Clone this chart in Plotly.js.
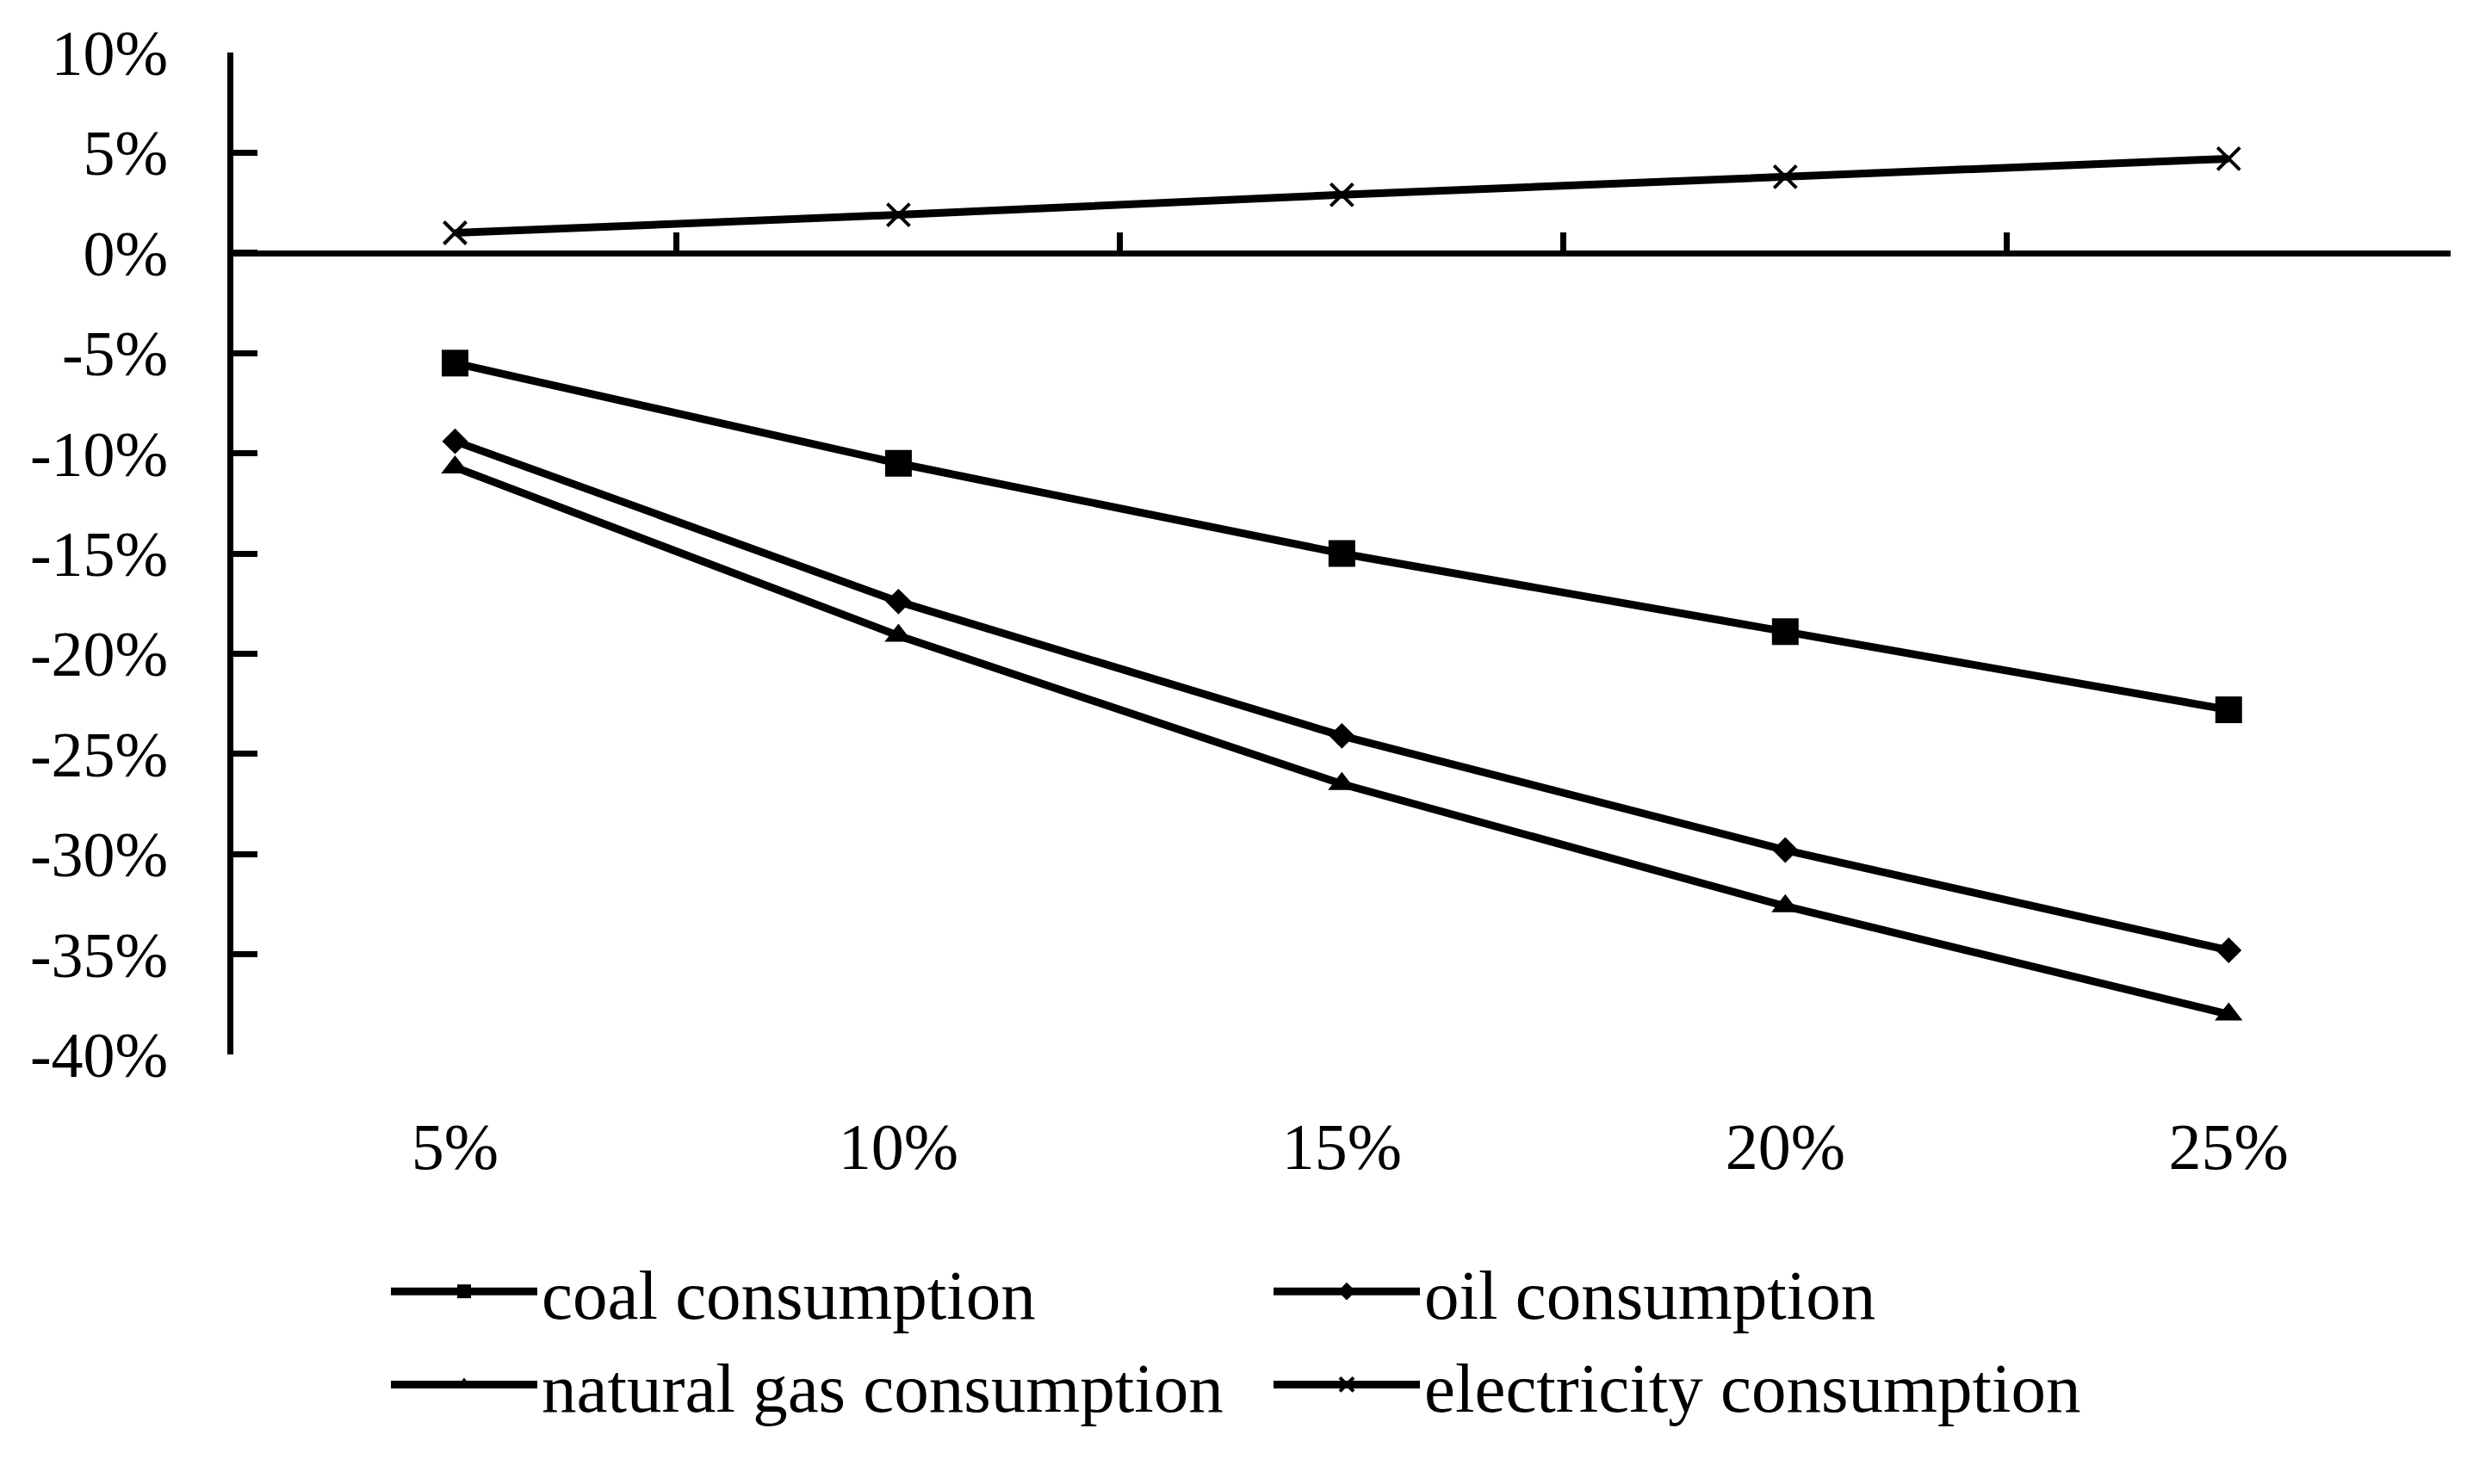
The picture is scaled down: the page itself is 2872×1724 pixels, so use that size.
<!DOCTYPE html>
<html>
<head>
<meta charset="utf-8">
<script src="https://cdn.plot.ly/plotly-3.0.1.min.js"></script>
<style>html,body{margin:0;padding:0;background:#fff;}#chart{width:2872px;height:1724px;}</style>
</head>
<body>
<div id="chart"></div>
<script>
const categories = ['5%', '10%', '15%', '20%', '25%'];
const coalConsumption = [-5.5, -10.5, -15.0, -18.9, -22.8];
const oilConsumption = [-9.4, -17.4, -24.1, -29.8, -34.8];
const gasConsumption = [-10.7, -19.1, -26.5, -32.6, -38.0];
const electricityConsumption = [1.0, 1.9, 2.9, 3.8, 4.7];
const seriesNames = ['coal consumption', 'oil consumption', 'natural gas consumption', 'electricity consumption'];
const yTickVals = [-40, -35, -30, -25, -20, -15, -10, -5, 0, 5, 10];
const yTickText = ['-40%', '-35%', '-30%', '-25%', '-20%', '-15%', '-10%', '-5%', '0%', '5%', '10%'];

const FONT = 'Liberation Serif, Times New Roman, serif';
const LINE_W = 9;

function mk(name, y, symbol, size, extra) {
  return Object.assign({
    type: 'scatter', mode: 'lines+markers', name: name,
    x: categories, y: y, xaxis: 'x', yaxis: 'y',
    line: {color: '#000', width: LINE_W},
    marker: {symbol: symbol, size: size, color: '#000'},
    hoverinfo: 'x+y+name'
  }, extra || {});
}

const traces = [
  mk(seriesNames[0], coalConsumption, 'square', 31),
  mk(seriesNames[1], oilConsumption, 'diamond', 23),
  mk(seriesNames[2], gasConsumption, 'triangle-up', 28),
  mk(seriesNames[3], electricityConsumption, 'x-thin', 26, {
    marker: {symbol: 'x-thin', size: 26, color: '#000', line: {color: '#000', width: 4}}
  })
];

const n = categories.length;
const yMin = yTickVals[0], yMax = yTickVals[yTickVals.length - 1];

const layout = {
  width: 2872, height: 1724,
  paper_bgcolor: '#fff', plot_bgcolor: '#fff',
  margin: {l: 271, r: 26, t: 61, b: 499, pad: 0},
  font: {family: FONT, color: '#000', size: 74},
  showlegend: true,
  xaxis: {
    type: 'category', categoryorder: 'array', categoryarray: categories,
    range: [-0.5, n - 0.4995],
    anchor: 'free', position: (0 - yMin) / (yMax - yMin), side: 'bottom',
    showline: true, linecolor: '#000', linewidth: 7,
    ticks: 'inside', tickson: 'boundaries', ticklen: 21, tickwidth: 7, tickcolor: '#000',
    showgrid: false, zeroline: false,
    tickfont: {family: FONT, size: 76, color: '#000'},
    ticklabelstandoff: 969, fixedrange: true
  },
  yaxis: {
    range: [yMin, yMax], tickmode: 'array', tickvals: yTickVals, ticktext: yTickText,
    showline: true, linecolor: '#000', linewidth: 7,
    ticks: 'inside', ticklen: 28, tickwidth: 7, tickcolor: '#000',
    showgrid: false, zeroline: false,
    tickfont: {family: FONT, size: 74, color: '#000'},
    ticklabelstandoff: 54, fixedrange: true
  },
  legend: {
    orientation: 'h', x: (449 - 271) / 2575, xanchor: 'left',
    y: (1225 - 1441) / 1164, yanchor: 'top',
    font: {family: FONT, size: 81, color: '#000'},
    itemwidth: 170, entrywidth: 840, entrywidthmode: 'pixels',
    bgcolor: 'rgba(0,0,0,0)', traceorder: 'normal',
    itemclick: false, itemdoubleclick: false
  }
};

Plotly.newPlot('chart', traces, layout, {displayModeBar: false, staticPlot: true});
</script>
</body>
</html>
